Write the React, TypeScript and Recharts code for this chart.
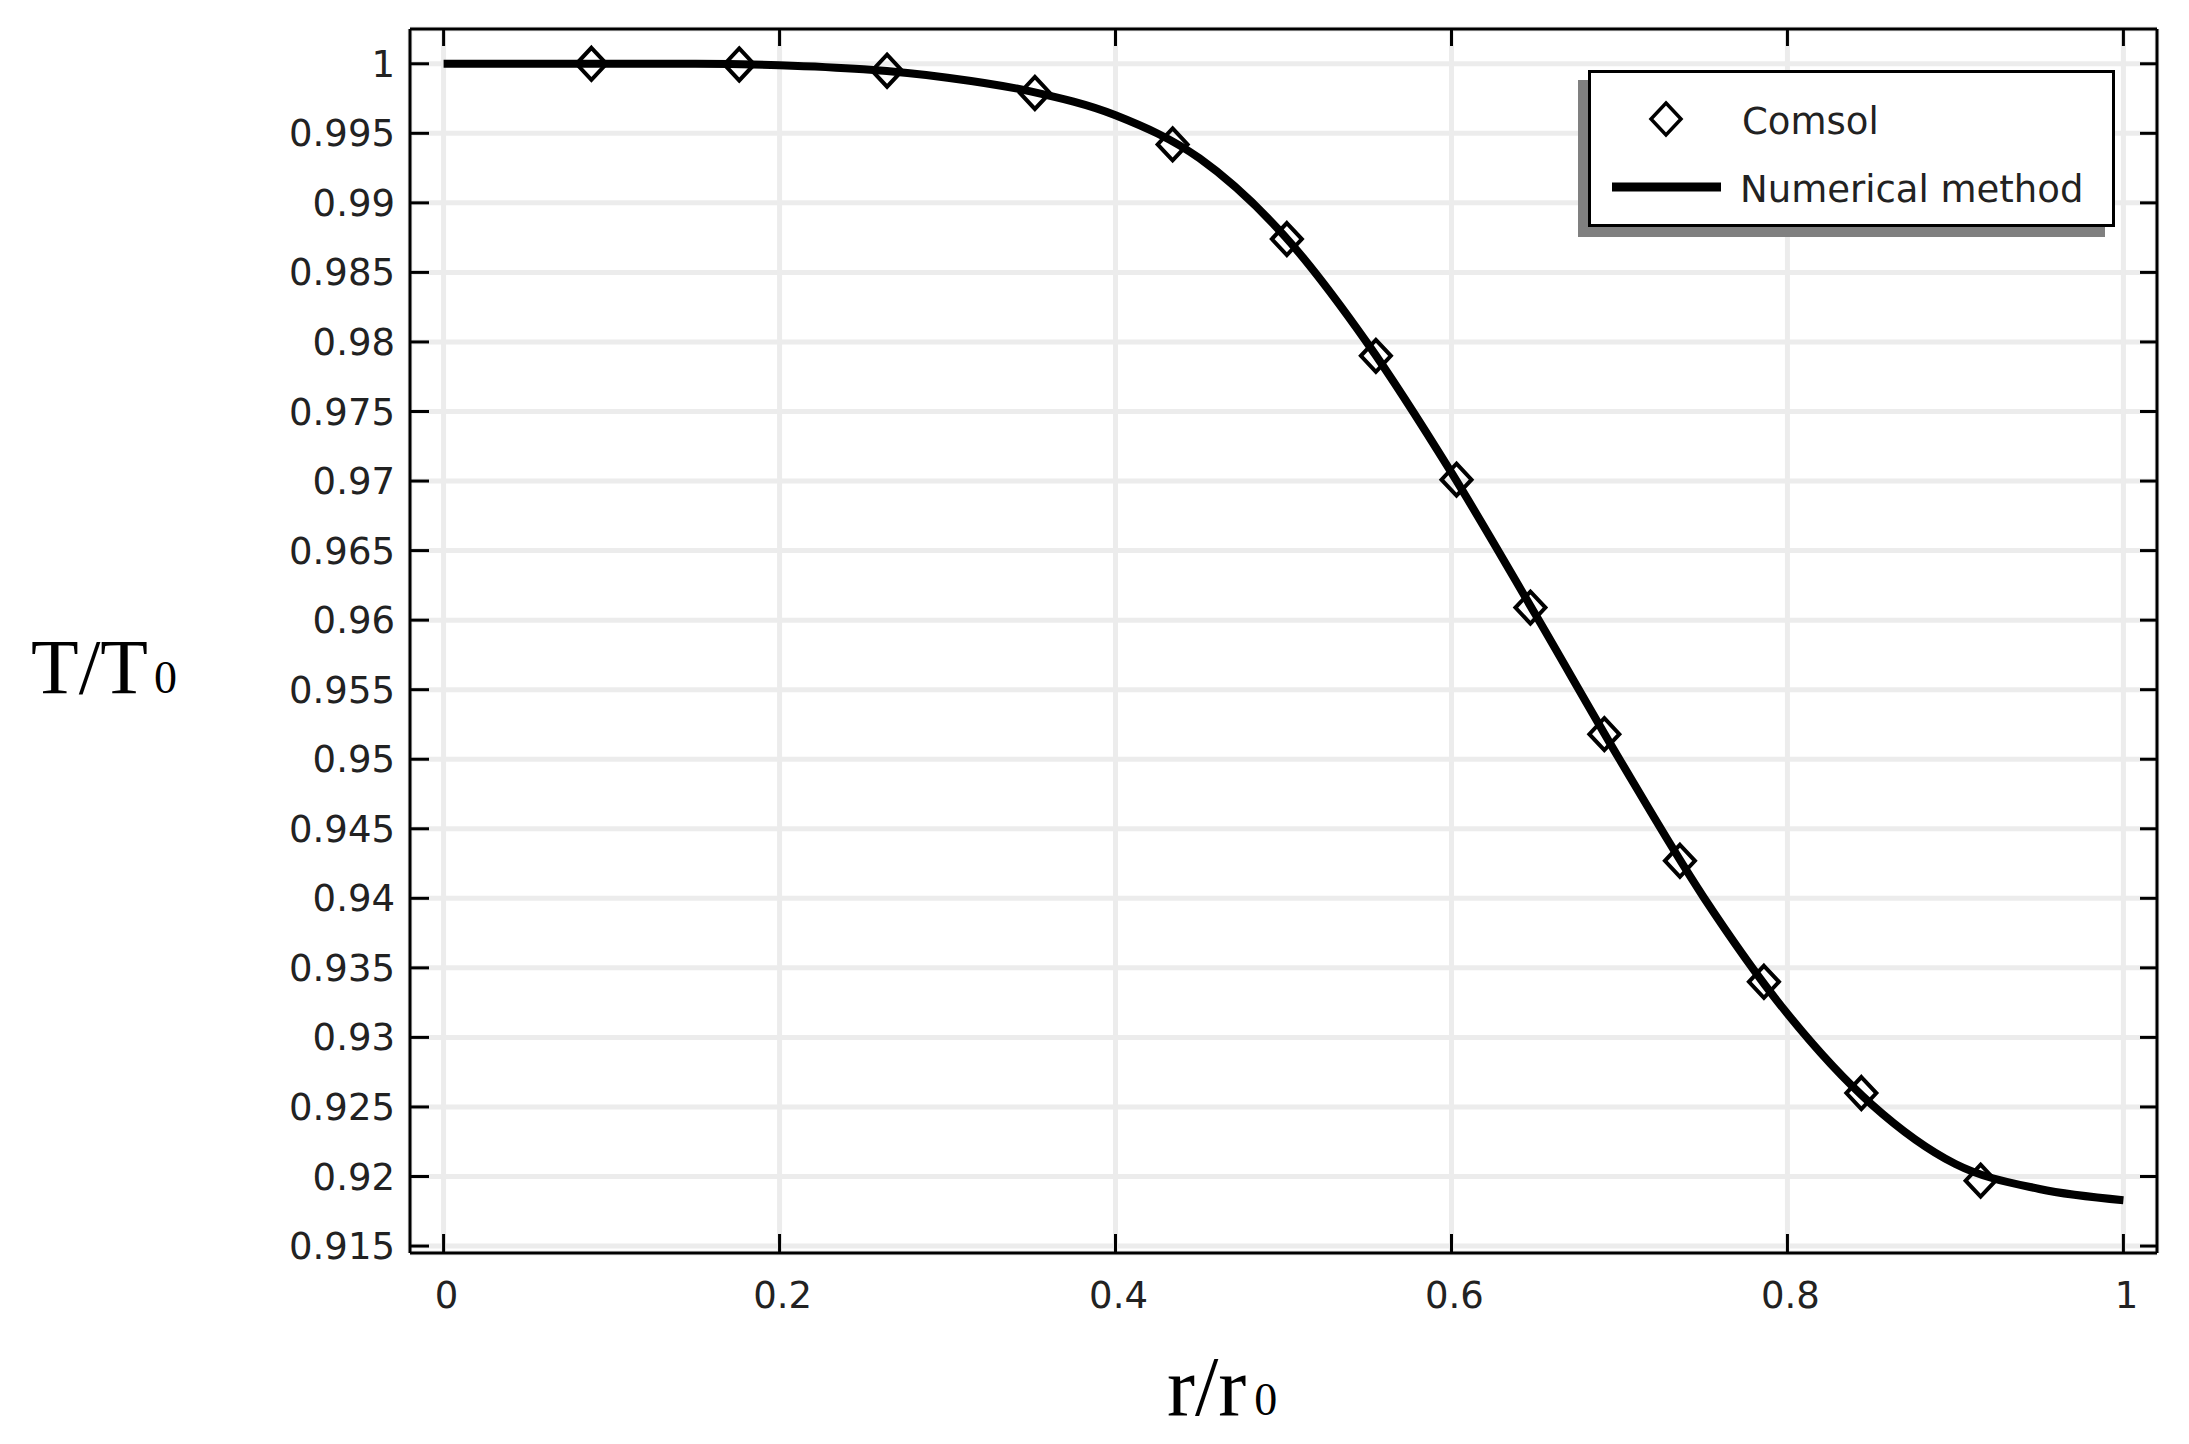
import {
  CartesianGrid,
  ComposedChart,
  Line,
  Scatter,
  XAxis,
  YAxis,
} from 'recharts'

// Numerical method curve
const numericalX = [0, 0.05, 0.1, 0.15, 0.2, 0.25, 0.3, 0.35, 0.4, 0.45, 0.5, 0.55, 0.6, 0.65, 0.7, 0.75, 0.8, 0.85, 0.9, 0.95, 1]
const numericalY = [
  1.0, 1.0, 1.0, 1.0, 0.9999, 0.9996, 0.999, 0.998, 0.9963, 0.9932, 0.9877, 0.9799, 0.9706, 0.9604, 0.95, 0.9401,
  0.9317, 0.9252, 0.9209, 0.9191, 0.9183,
]

// Comsol markers
const comsolX = [0.088, 0.176, 0.264, 0.352, 0.434, 0.502, 0.555, 0.603, 0.647, 0.691, 0.736, 0.786, 0.844, 0.915]
const comsolY = [1.0, 0.99995, 0.9995, 0.9979, 0.9942, 0.9874, 0.979, 0.9701, 0.9609, 0.9518, 0.9427, 0.934, 0.926, 0.9197]

const xTicks = [0, 0.2, 0.4, 0.6, 0.8, 1]
const yTicks = [
  0.915, 0.92, 0.925, 0.93, 0.935, 0.94, 0.945, 0.95, 0.955, 0.96, 0.965, 0.97, 0.975, 0.98, 0.985, 0.99, 0.995, 1,
]

const numericalData = numericalX.map((x, i) => ({ x, y: numericalY[i] }))
const comsolData = comsolX.map((x, i) => ({ x, y: comsolY[i] }))

const TICK_FONT = "'DejaVu Sans', sans-serif"
const TICK_COLOR = '#222'
const fmt = (v: number) => String(Number(v.toFixed(3)))

// ticks point inward, so they are drawn by hand next to the label
function BottomTick(props: any) {
  const { x, y, payload } = props
  return (
    <g>
      <line x1={x} x2={x} y1={y} y2={y - 19} stroke="#000" strokeWidth={3} />
      <text x={x + 3} y={y + 55} textAnchor="middle" fontSize={37} fill={TICK_COLOR} fontFamily={TICK_FONT}>
        {fmt(payload.value)}
      </text>
    </g>
  )
}

function TopTick(props: any) {
  const { x, y } = props
  return <line x1={x} x2={x} y1={y} y2={y + 17} stroke="#000" strokeWidth={3} />
}

function LeftTick(props: any) {
  const { x, y, payload } = props
  return (
    <g>
      <line x1={x} x2={x + 19} y1={y} y2={y} stroke="#000" strokeWidth={3} />
      <text x={x - 15} y={y + 13} textAnchor="end" fontSize={37} fill={TICK_COLOR} fontFamily={TICK_FONT}>
        {fmt(payload.value)}
      </text>
    </g>
  )
}

function RightTick(props: any) {
  const { x, y } = props
  return <line x1={x} x2={x - 17} y1={y} y2={y} stroke="#000" strokeWidth={3} />
}

function Diamond(props: any) {
  const { cx, cy } = props
  if (cx == null || cy == null) return <g />
  return (
    <path
      d={`M${cx},${cy - 16} L${cx + 15},${cy} L${cx},${cy + 16} L${cx - 15},${cy} Z`}
      fill="none"
      stroke="#000"
      strokeWidth={4}
    />
  )
}

function LegendBox() {
  return (
    <div
      style={{
        position: 'absolute',
        left: 1588,
        top: 70,
        width: 527,
        height: 157,
        boxSizing: 'border-box',
        border: '3px solid #000',
        background: '#fff',
        boxShadow: '-10px 10px 0 #808080',
      }}
    >
      <svg width={527} height={157} style={{ position: 'absolute', left: -3, top: -3 }}>
        <path d="M78,33 L93,49 L78,65 L63,49 Z" fill="none" stroke="#000" strokeWidth={3.5} />
        <line x1={24} x2={133} y1={117} y2={117} stroke="#000" strokeWidth={9} />
        <text x={154} y={64} fontSize={37} fill={TICK_COLOR} fontFamily={TICK_FONT}>
          Comsol
        </text>
        <text x={152} y={132} fontSize={37} fill={TICK_COLOR} fontFamily={TICK_FONT}>
          Numerical method
        </text>
      </svg>
    </div>
  )
}

export default function App() {
  return (
    <div style={{ position: 'absolute', left: 0, top: 0, width: 2189, height: 1444, background: '#fff' }}>
      <ComposedChart width={2189} height={1444} margin={{ top: 28, right: 31, bottom: 111, left: 290 }}>
        <CartesianGrid stroke="#ececec" strokeWidth={5} />
        <XAxis
          dataKey="x"
          type="number"
          domain={[-0.02, 1.02]}
          ticks={xTicks}
          interval={0}
          allowDataOverflow
          height={80}
          tickSize={0}
          tickMargin={0}
          tickLine={false}
          axisLine={{ stroke: '#000', strokeWidth: 3 }}
          tick={BottomTick}
        />
        <XAxis
          xAxisId="top"
          orientation="top"
          dataKey="x"
          type="number"
          domain={[-0.02, 1.02]}
          ticks={xTicks}
          interval={0}
          allowDataOverflow
          height={1}
          tickSize={0}
          tickMargin={0}
          tickLine={false}
          axisLine={{ stroke: '#000', strokeWidth: 3 }}
          tick={TopTick}
        />
        <YAxis
          type="number"
          domain={[0.9145, 1.0025]}
          ticks={yTicks}
          interval={0}
          allowDataOverflow
          width={120}
          tickSize={0}
          tickMargin={0}
          tickLine={false}
          axisLine={{ stroke: '#000', strokeWidth: 3 }}
          tick={LeftTick}
        />
        <YAxis
          yAxisId="right"
          orientation="right"
          type="number"
          domain={[0.9145, 1.0025]}
          ticks={yTicks}
          interval={0}
          allowDataOverflow
          width={1}
          tickSize={0}
          tickMargin={0}
          tickLine={false}
          axisLine={{ stroke: '#000', strokeWidth: 3 }}
          tick={RightTick}
        />
        <Line
          data={numericalData}
          dataKey="y"
          type="monotone"
          stroke="#000"
          strokeWidth={8}
          dot={false}
          activeDot={false}
          isAnimationActive={false}
        />
        <Scatter data={comsolData} dataKey="y" shape={Diamond} isAnimationActive={false} />
      </ComposedChart>
      <LegendBox />
      <svg
        width={2189}
        height={1444}
        style={{ position: 'absolute', left: 0, top: 0, pointerEvents: 'none' }}
      >
        <text x={31} y={693} fontFamily="'Liberation Serif', serif" fontSize={78} fill="#000">
          T/T
          <tspan fontSize={46} dx={6}>
            0
          </tspan>
        </text>
        <text x={1167} y={1415} fontFamily="'Liberation Serif', serif" fontSize={84} fill="#000">
          r/r
          <tspan fontSize={46} dx={8}>
            0
          </tspan>
        </text>
      </svg>
    </div>
  )
}
